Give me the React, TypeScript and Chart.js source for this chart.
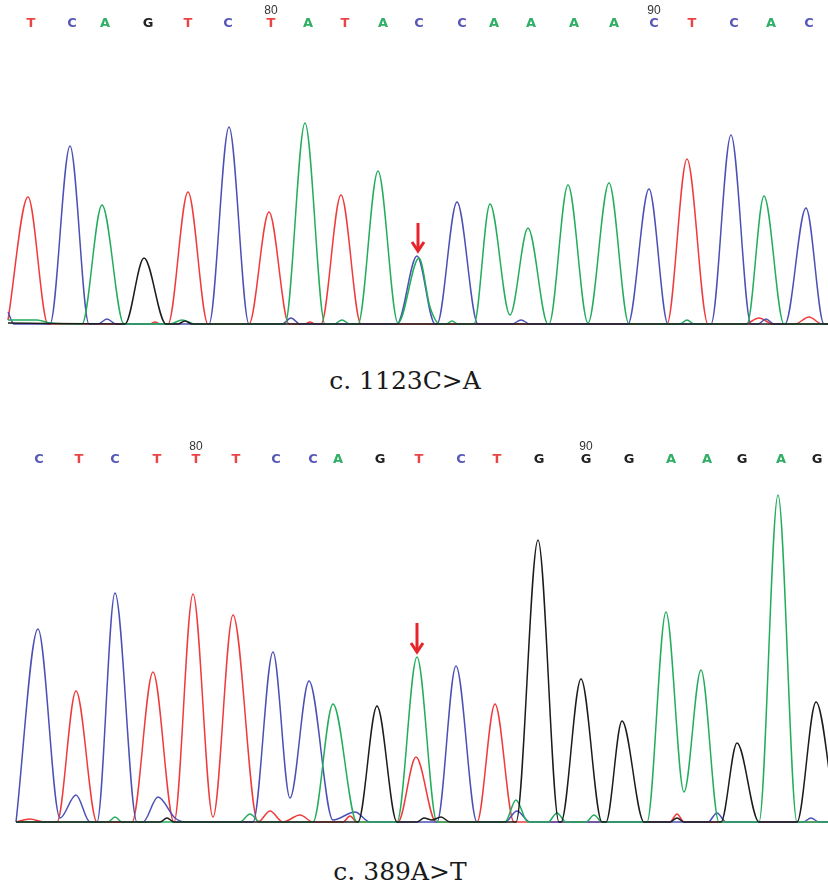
import React, { useEffect, useRef } from "react";
import { Chart, registerables } from "chart.js";

Chart.register(...registerables);

type Pt = [number, number];
type Base = "A" | "C" | "G" | "T";

// ---------- shared ----------
const X_MAX = 828;
const CHANNEL_COLORS: Record<Base, string> = { A: "#22ad5c", C: "#4b50b5", G: "#1c1c1c", T: "#ef3b3b" };
const LETTER_COLORS: Record<Base, string> = { A: "#2fae66", C: "#5657b8", G: "#222222", T: "#ea4545" };
const ARROW_COLOR = "#e8242b";

// ---------- top trace (c.1123C>A) ----------
const TOP_BASES: Base[] = ["T","C","A","G","T","C","T","A","T","A","C","C","A","A","A","A","C","T","C","A","C"];
const TOP_BASE_POS = [31, 72, 105, 148, 188, 228, 271, 308, 345, 383, 419, 462, 494, 531, 574, 614, 654, 692, 734, 771, 809];
const TOP_FIRST_BASE = 74;
const TOP_CAPTION = "c. 1123C>A";
const TOP_ARROW = [418, 101, 73];

const TOP_A: Pt[] = [[8,4],[37,4],[50,1],[82,0],[102,119],[124,0],[170,0],[182,4],[195,0],[285,0],[305,201],[325,0],[334,0],[342,4],[350,0],[358,0],[378,153],[398,1],[419,66],[430,17],[440,0],[446,0],[452,3],[458,0],[474,0],[490,120],[510,9],[528,96],[548,0],[549,0],[568,139],[588,1],[609,141],[629,0],[680,0],[687,4],[694,0],[747,0],[764,128],[784,0],[828,0]];
const TOP_C: Pt[] = [[8,12],[14,0],[50,0],[70,178],[89,0],[98,0],[107,5],[116,0],[209,0],[229,197],[249,0],[282,0],[291,6],[300,0],[397,0],[417,68],[435,0],[437,0],[457,122],[478,0],[512,0],[521,4],[530,0],[628,0],[649,135],[668,0],[711,0],[731,189],[751,0],[758,0],[766,5],[774,0],[785,0],[806,116],[824,0],[828,0]];
const TOP_G: Pt[] = [[8,1],[125,0],[144,66],[166,0],[178,0],[185,3],[192,0],[828,0]];
const TOP_T: Pt[] = [[8,4],[28,127],[48,0],[150,0],[155,2],[160,0],[168,0],[188,132],[208,0],[249,0],[269,112],[289,0],[305,0],[310,2],[315,0],[321,0],[341,129],[361,0],[667,0],[687,165],[708,0],[745,0],[759,6],[773,0],[795,0],[809,7],[822,0],[828,0]];

// ---------- bottom trace (c.389A>T) ----------
const BOT_BASES: Base[] = ["C","T","C","T","T","T","C","C","A","G","T","C","T","G","G","G","A","A","G","A","G"];
const BOT_BASE_POS = [39, 79, 115, 157, 196, 236, 276, 313, 338, 380, 419, 461, 497, 539, 586, 629, 671, 707, 742, 781, 817];
const BOT_FIRST_BASE = 76;
const BOT_CAPTION = "c. 389A>T";
const BOT_ARROW = [417, 199, 170];

const BOT_A: Pt[] = [[16,0],[108,0],[115,5],[122,0],[240,0],[250,8],[260,0],[313,0],[333,118],[357,0],[397,0],[417,165],[437,0],[505,0],[516,22],[528,0],[548,0],[557,9],[566,0],[586,0],[594,7],[602,0],[647,0],[666,210],[684,30],[701,152],[719,0],[759,0],[778,327],[797,0],[828,0]];
const BOT_C: Pt[] = [[16,0],[38,193],[60,4],[76,27],[90,0],[97,0],[115,229],[137,0],[143,0],[158,25],[175,4],[185,0],[253,0],[273,170],[290,24],[309,141],[333,2],[355,10],[370,0],[437,0],[456,156],[477,0],[505,0],[517,11],[530,0],[708,0],[717,9],[726,0],[803,0],[811,4],[819,0],[828,0]];
const BOT_G: Pt[] = [[16,0],[160,0],[167,4],[174,0],[358,0],[377,116],[397,0],[417,0],[424,4],[432,2],[441,5],[450,0],[516,0],[538,282],[559,0],[561,0],[581,143],[602,0],[606,0],[622,101],[644,0],[670,0],[677,4],[684,0],[721,0],[737,79],[759,0],[797,0],[816,120],[836,0]];
const BOT_T: Pt[] = [[16,0],[30,3],[44,0],[57,0],[76,131],[97,0],[132,0],[153,150],[174,0],[193,228],[213,5],[233,207],[258,0],[270,11],[283,0],[300,7],[313,0],[343,0],[350,6],[357,0],[398,0],[416,65],[436,0],[477,0],[495,118],[514,0],[670,0],[677,8],[684,0],[828,0]];

const arrowPlugin = {
  id: "mutationArrow",
  afterDatasetsDraw(chart: any, _args: any, opts: any) {
    if (!opts || !opts.at) return;
    const [xv, fromV, toV] = opts.at;
    const x = chart.scales.x.getPixelForValue(xv);
    const y1 = chart.scales.y.getPixelForValue(fromV);
    const y2 = chart.scales.y.getPixelForValue(toV);
    const ctx = chart.ctx;
    ctx.save();
    ctx.strokeStyle = opts.color;
    ctx.lineWidth = 3;
    ctx.beginPath();
    ctx.moveTo(x, y1);
    ctx.lineTo(x, y2 - 2);
    ctx.stroke();
    ctx.beginPath();
    ctx.moveTo(x - 6, y2 - 9);
    ctx.lineTo(x, y2);
    ctx.lineTo(x + 6, y2 - 9);
    ctx.stroke();
    ctx.restore();
  },
};

interface ChromProps {
  bases: Base[];
  positions: number[];
  firstBase: number;
  traces: Record<Base, Pt[]>;
  arrow: number[];
  yMin: number;
  yMax: number;
  height: number;
  padBottom: number;
}

function Chromatogram(p: ChromProps) {
  const ref = useRef<HTMLCanvasElement>(null);
  useEffect(() => {
    const numbers = p.positions.map((_, i) => p.firstBase + i);
    const numberedPos = p.positions.filter((_, i) => numbers[i] % 10 === 0);
    const numberedLabels = numbers.filter((n) => n % 10 === 0);
    const order: Base[] = ["G", "A", "C", "T"];
    const chart = new Chart(ref.current as HTMLCanvasElement, {
      type: "line",
      data: {
        datasets: order.map((k) => ({
          label: k,
          data: p.traces[k].map(([x, y]) => ({ x, y })),
          borderColor: CHANNEL_COLORS[k],
          borderWidth: 1.5,
          pointRadius: 0,
          fill: false,
          cubicInterpolationMode: "monotone" as const,
          xAxisID: "x",
          yAxisID: "y",
        })),
      },
      options: {
        animation: false,
        responsive: false,
        events: [],
        layout: { padding: { top: 5, bottom: p.padBottom, left: 0, right: 0 } },
        plugins: {
          legend: { display: false },
          tooltip: { enabled: false },
          mutationArrow: { at: p.arrow, color: ARROW_COLOR },
        } as any,
        scales: {
          x: { type: "linear", min: 0, max: X_MAX, display: false },
          y: { type: "linear", min: p.yMin, max: p.yMax, display: false },
          bases: {
            type: "linear",
            axis: "x",
            position: "top",
            min: 0,
            max: X_MAX,
            weight: 1,
            grid: { display: false, drawTicks: false },
            border: { display: false },
            afterBuildTicks: (s: any) => {
              s.ticks = p.positions.map((v) => ({ value: v }));
            },
            ticks: {
              autoSkip: false,
              maxRotation: 0,
              minRotation: 0,
              padding: 0,
              font: { family: "DejaVu Sans", size: 13, weight: "bold", lineHeight: 1 },
              color: (c: any) => LETTER_COLORS[p.bases[c.index]],
              callback: (_v: any, i: number) => p.bases[i],
            },
          } as any,
          nums: {
            type: "linear",
            axis: "x",
            position: "top",
            min: 0,
            max: X_MAX,
            weight: 2,
            grid: { display: false, drawTicks: false },
            border: { display: false },
            afterBuildTicks: (s: any) => {
              s.ticks = numberedPos.map((v) => ({ value: v }));
            },
            ticks: {
              autoSkip: false,
              maxRotation: 0,
              minRotation: 0,
              padding: 0,
              font: { family: "Liberation Sans", size: 12, lineHeight: 1 },
              color: "#333333",
              callback: (_v: any, i: number) => String(numberedLabels[i]),
            },
          } as any,
        },
      },
      plugins: [arrowPlugin as any],
    });
    return () => chart.destroy();
  }, []);
  return <canvas ref={ref} width={X_MAX} height={p.height} style={{ display: "block" }} />;
}

const captionStyle: React.CSSProperties = {
  position: "absolute",
  transform: "translate(-50%, -50%)",
  fontFamily: "'DejaVu Serif', serif",
  fontSize: 25,
  color: "#1a1a1a",
  whiteSpace: "nowrap",
  lineHeight: 1,
};

export default function App() {
  return (
    <div style={{ position: "absolute", left: 0, top: 0, width: 828, height: 887, background: "#ffffff", overflow: "hidden" }}>
      <div style={{ position: "absolute", left: 0, top: 0 }}>
        <Chromatogram
          bases={TOP_BASES}
          positions={TOP_BASE_POS}
          firstBase={TOP_FIRST_BASE}
          traces={{ A: TOP_A, C: TOP_C, G: TOP_G, T: TOP_T }}
          arrow={TOP_ARROW}
          yMin={-4}
          yMax={294}
          height={340}
          padBottom={12}
        />
      </div>
      <div style={{ ...captionStyle, left: 405, top: 380 }}>{TOP_CAPTION}</div>
      <div style={{ position: "absolute", left: 0, top: 436 }}>
        <Chromatogram
          bases={BOT_BASES}
          positions={BOT_BASE_POS}
          firstBase={BOT_FIRST_BASE}
          traces={{ A: BOT_A, C: BOT_C, G: BOT_G, T: BOT_T }}
          arrow={BOT_ARROW}
          yMin={-4}
          yMax={356}
          height={401}
          padBottom={11}
        />
      </div>
      <div style={{ ...captionStyle, left: 400, top: 871 }}>{BOT_CAPTION}</div>
    </div>
  );
}
